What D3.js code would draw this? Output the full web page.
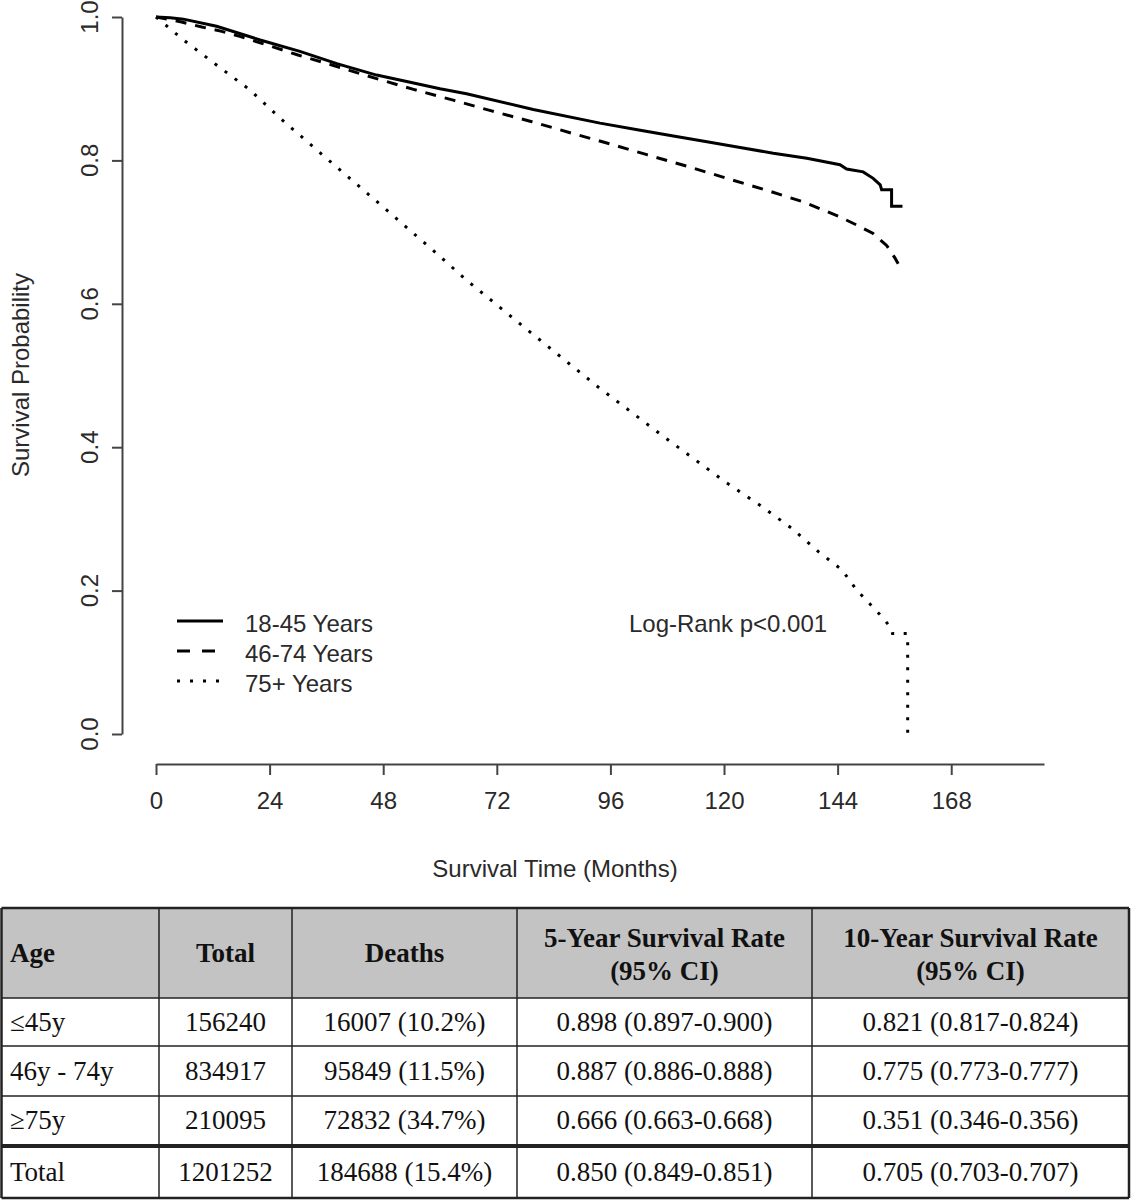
<!DOCTYPE html>
<html>
<head>
<meta charset="utf-8">
<script src="https://cdn.jsdelivr.net/npm/d3@7"></script>
<style>
  html, body { margin: 0; padding: 0; background: #fff; }
  svg { display: block; }
</style>
</head>
<body>
<div id="chart"></div>
<script>
// ---------- DATA ----------
const seriesNames = ["18-45 Years", "46-74 Years", "75+ Years"];

// [month, survival probability]
const survYoung = [
  [0,1.0],[3,0.999],[5.8,0.997],[12.8,0.987],[22,0.968],[30.4,0.952],[38.2,0.935],
  [46.6,0.919],[53.7,0.909],[60,0.900],[65.6,0.893],[79.7,0.871],[93.8,0.852],
  [102.3,0.842],[109.3,0.834],[116.4,0.826],[123.4,0.818],[130.4,0.810],[137.5,0.803],
  [144.5,0.794],[145.9,0.788],[149.4,0.784],[151.5,0.775],[153,0.766],[153.3,0.759],
  [155.4,0.759],[155.4,0.736],[157.7,0.736]
];
const survMid = [
  [0,1.0],[5.4,0.993],[9.7,0.986],[13.9,0.980],[17.7,0.973],[22,0.964],[30,0.947],
  [38.2,0.931],[46.6,0.914],[54.4,0.899],[62.8,0.884],[70.9,0.869],[79.4,0.854],
  [87.8,0.838],[95.9,0.823],[103.7,0.808],[112.1,0.792],[120.6,0.775],[128.7,0.759],
  [136.8,0.742],[144.2,0.722],[148,0.710],[151.5,0.698],[154.4,0.681],[156.1,0.664],
  [156.8,0.656]
];
const survOld = [
  [0,1.0],[5.8,0.968],[12.8,0.933],[19.9,0.898],[26.2,0.859],[36,0.803],[48,0.735],
  [60,0.666],[65.6,0.633],[79.7,0.557],[93.4,0.484],[107,0.416],[120.6,0.350],
  [127.6,0.319],[134.3,0.287],[140,0.254],[144.9,0.229],[148,0.201],[153.3,0.164],
  [155.4,0.147],[155.6,0.140],[158.8,0.140],[158.8,0.0]
];

const xTicks = [0, 24, 48, 72, 96, 120, 144, 168];
const yTicks = [0, 0.2, 0.4, 0.6, 0.8, 1.0];
const yTickLabels = ["0.0", "0.2", "0.4", "0.6", "0.8", "1.0"];

const xTitle = "Survival Time (Months)";
const yTitle = "Survival Probability";
const pText = "Log-Rank p<0.001";

// table
const tableHeaders = [["Age"], ["Total"], ["Deaths"], ["5-Year Survival Rate", "(95% CI)"], ["10-Year Survival Rate", "(95% CI)"]];
const ageGroups = ["\u226445y", "46y - 74y", "\u226575y", "Total"];
const totals = ["156240", "834917", "210095", "1201252"];
const deaths = ["16007 (10.2%)", "95849 (11.5%)", "72832 (34.7%)", "184688 (15.4%)"];
const surv5 = ["0.898 (0.897-0.900)", "0.887 (0.886-0.888)", "0.666 (0.663-0.668)", "0.850 (0.849-0.851)"];
const surv10 = ["0.821 (0.817-0.824)", "0.775 (0.773-0.777)", "0.351 (0.346-0.356)", "0.705 (0.703-0.707)"];

// ---------- DRAW ----------
const W = 1131, H = 1200;
const svg = d3.select("#chart").append("svg").attr("width", W).attr("height", H);
const sans = "'Liberation Sans', Arial, sans-serif";
const serif = "'Liberation Serif', 'Times New Roman', serif";
const textCol = "#2a2a2a";

const x = d3.scaleLinear().domain([0, 187.6]).range([156, 1044]);
const y = d3.scaleLinear().domain([0, 1]).range([734, 17]);

// X axis
const gx = svg.append("g").attr("transform", "translate(0,764)")
  .call(d3.axisBottom(x).tickValues(xTicks).tickSize(11).tickSizeOuter(0).tickPadding(17));
gx.select(".domain").attr("stroke", "#444").attr("stroke-width", 2);
gx.selectAll(".tick line").attr("stroke", "#444").attr("stroke-width", 2);
gx.selectAll(".tick text").attr("font-family", sans).attr("font-size", 24).attr("fill", textCol);

// Y axis
const gy = svg.append("g").attr("transform", "translate(122,0)")
  .call(d3.axisLeft(y).tickValues(yTicks).tickSize(10).tickSizeOuter(0).tickFormat(""));
gy.select(".domain").attr("stroke", "#444").attr("stroke-width", 2);
gy.selectAll(".tick line").attr("stroke", "#444").attr("stroke-width", 2);
gy.selectAll(".tick text").remove();
svg.append("g").selectAll("text").data(yTicks).join("text")
  .attr("transform", (d) => `translate(98,${y(d)}) rotate(-90)`)
  .attr("text-anchor", "middle")
  .attr("font-family", sans).attr("font-size", 24).attr("fill", textCol)
  .text((d, i) => yTickLabels[i]);

// Axis titles
svg.append("text").attr("x", 555).attr("y", 877).attr("text-anchor", "middle")
  .attr("font-family", sans).attr("font-size", 24).attr("fill", textCol).text(xTitle);
svg.append("text").attr("transform", "translate(29,375) rotate(-90)").attr("text-anchor", "middle")
  .attr("font-family", sans).attr("font-size", 24).attr("fill", textCol).text(yTitle);

// Curves
const line = d3.line().x(d => x(d[0])).y(d => y(d[1]));
const styles = [
  { data: survYoung, dash: null },
  { data: survMid, dash: "11,9" },
  { data: survOld, dash: "3,9.5" }
];
svg.append("g").selectAll("path").data(styles).join("path")
  .attr("d", d => line(d.data))
  .attr("fill", "none").attr("stroke", "#000").attr("stroke-width", 3)
  .attr("stroke-linejoin", "miter")
  .attr("stroke-dasharray", d => d.dash);

// Legend
const legendDash = [null, "13,12", "3,10"];
const lg = svg.append("g");
seriesNames.forEach((name, i) => {
  const ly = 621 + i * 30;
  lg.append("line").attr("x1", 177).attr("x2", 223).attr("y1", ly).attr("y2", ly)
    .attr("stroke", "#000").attr("stroke-width", 3).attr("stroke-dasharray", legendDash[i]);
  lg.append("text").attr("x", 245).attr("y", ly + 10.5)
    .attr("font-family", sans).attr("font-size", 24).attr("fill", textCol).text(name);
});

// p-value
svg.append("text").attr("x", 629).attr("y", 632)
  .attr("font-family", sans).attr("font-size", 24).attr("fill", textCol).text(pText);

// ---------- TABLE ----------
const colX = [1.5, 159, 292, 517, 812, 1129];
const rowY = [908, 998, 1046, 1096, 1146, 1198];
const tg = svg.append("g");
tg.append("rect").attr("x", colX[0]).attr("y", rowY[0]).attr("width", colX[5] - colX[0])
  .attr("height", rowY[1] - rowY[0]).attr("fill", "#c3c3c3");

// horizontal lines
rowY.forEach((ry, i) => {
  tg.append("line").attr("x1", colX[0]).attr("x2", colX[5]).attr("y1", ry).attr("y2", ry)
    .attr("stroke", "#222").attr("stroke-width", i === 4 ? 4 : (i === 0 || i === 5 ? 2.5 : 1.5));
});
// vertical lines
colX.forEach((cx, i) => {
  tg.append("line").attr("x1", cx).attr("x2", cx).attr("y1", rowY[0]).attr("y2", rowY[5])
    .attr("stroke", "#222").attr("stroke-width", (i === 0 || i === 5) ? 2.5 : 1.5);
});

// header text
tableHeaders.forEach((lines, c) => {
  const cx = c === 0 ? 10 : (colX[c] + colX[c + 1]) / 2;
  const anchor = c === 0 ? "start" : "middle";
  const baselines = lines.length === 1 ? [962] : [947, 980];
  lines.forEach((t, k) => {
    tg.append("text").attr("x", cx).attr("y", baselines[k]).attr("text-anchor", anchor)
      .attr("font-family", serif).attr("font-size", 27).attr("font-weight", "bold")
      .attr("fill", "#111").text(t);
  });
});

// body text
const bodyCols = [ageGroups, totals, deaths, surv5, surv10];
const bodyBase = [1031, 1080, 1129, 1181];
bodyCols.forEach((col, c) => {
  const cx = c === 0 ? 10 : (colX[c] + colX[c + 1]) / 2;
  const anchor = c === 0 ? "start" : "middle";
  col.forEach((t, r) => {
    tg.append("text").attr("x", cx).attr("y", bodyBase[r]).attr("text-anchor", anchor)
      .attr("font-family", serif).attr("font-size", 27).attr("fill", "#111").text(t);
  });
});
</script>
</body>
</html>
